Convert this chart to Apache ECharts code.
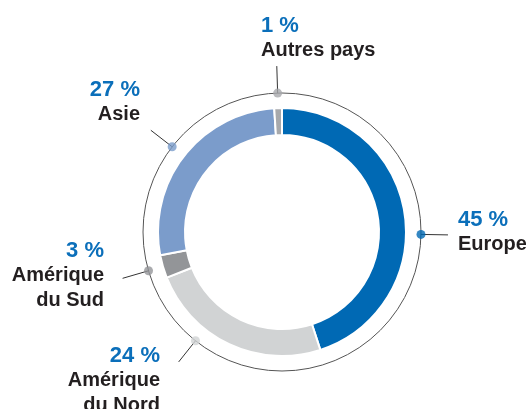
<!DOCTYPE html>
<html>
<head>
<meta charset="utf-8">
<script src="https://cdn.jsdelivr.net/npm/echarts@6/dist/echarts.min.js"></script>
<style>
    html, body { margin: 0; padding: 0; background: #fff; }
    #chart { width: 526px; height: 409px; }
</style>
</head>
<body>
<div id="chart"></div>
<script>
    // parts du chiffre d'affaires par zone
    var zones = ['Europe', 'Amérique du Nord', 'Amérique du Sud', 'Asie', 'Autres pays'];
    var labelNames = ['Europe', 'Amérique\ndu Nord', 'Amérique\ndu Sud', 'Asie', 'Autres pays'];
    var shares = [45, 24, 3, 27, 1];
    var colors = ['#0069b4', '#d1d3d4', '#939598', '#7b9ccb', '#a7a9ac'];

    // mise en page des étiquettes
    var cx = 282, cy = 232, rDot = 139, rLine = 166;
    var anchorAngles = [91, 218.5, 253.8, 307.8, 358.2];
    var labelPos = [
        {x: 458, y: 207, align: 'left'},
        {x: 160, y: 343, align: 'right'},
        {x: 104, y: 238, align: 'right'},
        {x: 140, y: 77, align: 'right'},
        {x: 261, y: 13, align: 'left'}
    ];

    function polarPoint(angle, r) {
        var a = angle * Math.PI / 180;
        return [cx + r * Math.sin(a), cy - r * Math.cos(a)];
    }

    var myChart = echarts.init(document.getElementById('chart'));

    var option = {
        animation: false,
        textStyle: {fontFamily: '"Liberation Sans", Arial, sans-serif'},
        polar: {center: [cx, cy], radius: rDot},
        angleAxis: {
            type: 'value', min: 0, max: 360, startAngle: 90, clockwise: true,
            axisLine: {lineStyle: {color: '#555', width: 1}},
            axisTick: {show: false},
            axisLabel: {show: false},
            splitLine: {show: false}
        },
        radiusAxis: {type: 'value', min: 0, max: 1, show: false},
        series: [
            {
                type: 'pie',
                center: [cx, cy],
                radius: [97, 124],
                startAngle: 90,
                avoidLabelOverlap: false,
                itemStyle: {borderColor: '#fff', borderWidth: 2},
                label: {
                    show: true,
                    formatter: function (p) {
                        return '{p|' + shares[p.dataIndex] + ' %}\n{n|' + labelNames[p.dataIndex] + '}';
                    },
                    rich: {
                        p: {fontSize: 22, lineHeight: 25, fontWeight: 'bold', color: '#0b6fba'},
                        n: {fontSize: 20, lineHeight: 25, fontWeight: 'bold', color: '#231f20'}
                    }
                },
                labelLine: {show: true, lineStyle: {color: '#333', width: 1}},
                labelLayout: function (params) {
                    var i = params.dataIndex;
                    var p1 = polarPoint(anchorAngles[i], rDot);
                    var p2 = polarPoint(anchorAngles[i], rLine);
                    return {
                        x: labelPos[i].x,
                        y: labelPos[i].y,
                        align: labelPos[i].align,
                        verticalAlign: 'top',
                        labelLinePoints: [p1, p2, p2]
                    };
                },
                data: zones.map(function (z, i) {
                    return {name: z, value: shares[i], itemStyle: {color: colors[i]}};
                })
            },
            {
                type: 'scatter',
                coordinateSystem: 'polar',
                symbolSize: 9,
                silent: true,
                data: anchorAngles.map(function (a, i) {
                    return {value: [1, a], itemStyle: {color: colors[i]}};
                })
            }
        ]
    };

    myChart.setOption(option);
</script>
</body>
</html>
